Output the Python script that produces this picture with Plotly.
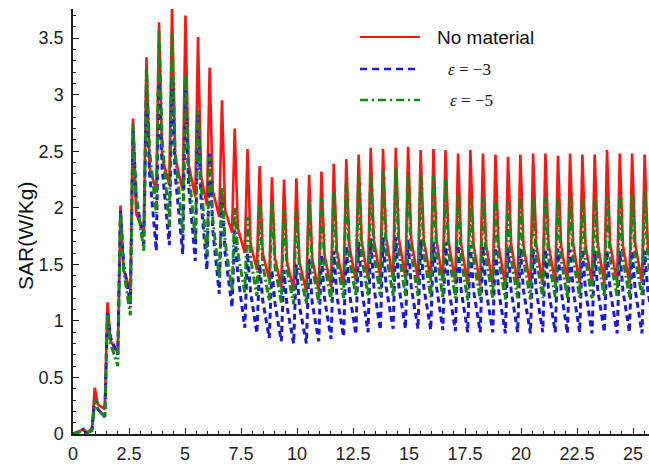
import plotly.graph_objects as go

# Peak positions (x)
peak_x = [0.97, 1.54, 2.12, 2.68, 3.28, 3.84, 4.42, 5.02, 5.58, 6.10, 6.65, 7.22, 7.79, 8.33,
          8.88, 9.42, 9.97, 10.54, 11.09, 11.64, 12.20, 12.75, 13.29, 13.84, 14.41, 14.96,
          15.52, 16.09, 16.63, 17.19, 17.74, 18.30, 18.86, 19.42, 19.97, 20.54, 21.09, 21.65,
          22.19, 22.74, 23.29, 23.84, 24.41, 24.96, 25.52]

# leading low part before the first peak
lead_x = [0.0, 0.25, 0.45, 0.62, 0.85]
red_lead = [0.0, 0.02, 0.045, 0.01, 0.05]
blue_lead = [0.0, 0.02, 0.04, 0.01, 0.04]
green_lead = [0.0, 0.015, 0.035, 0.01, 0.03]

# No material (red)
red_peak = [0.41, 1.165, 2.02, 2.79, 3.33, 3.64, 3.80, 3.70, 3.51, 3.24, 2.95, 2.70, 2.52, 2.37,
            2.27, 2.25, 2.26, 2.29, 2.32, 2.39, 2.43, 2.47, 2.53, 2.52, 2.53, 2.54, 2.51, 2.52,
            2.51, 2.48, 2.51, 2.48, 2.47, 2.45, 2.47, 2.48, 2.48, 2.46, 2.48, 2.47, 2.47, 2.51,
            2.48, 2.48, 2.47]
red_knee = [0.26, 0.82, 1.45, 1.95, 2.35, 2.45, 2.45, 2.38, 2.28, 2.15, 1.98, 1.82, 1.68, 1.60,
            1.55, 1.52, 1.52, 1.55, 1.58, 1.62, 1.66, 1.70, 1.72, 1.73, 1.73, 1.72, 1.72, 1.71,
            1.70, 1.68, 1.68, 1.68, 1.67, 1.68, 1.67, 1.68, 1.68, 1.67, 1.68, 1.67, 1.68, 1.68,
            1.67, 1.68, 1.67]
red_trough = [0.22, 0.72, 1.27, 1.78, 2.15, 2.20, 2.15, 2.10, 2.02, 1.92, 1.78, 1.60, 1.45, 1.36,
              1.30, 1.27, 1.26, 1.27, 1.30, 1.32, 1.35, 1.37, 1.38, 1.37, 1.38, 1.37, 1.36, 1.35,
              1.34, 1.32, 1.31, 1.32, 1.31, 1.32, 1.31, 1.32, 1.33, 1.34, 1.33, 1.34, 1.33, 1.34,
              1.33, 1.34, 1.34]

# epsilon = -3 (blue)
blue_peak = [0.30, 1.08, 1.98, 2.70, 3.05, 3.20, 3.15, 3.05, 2.83, 2.48, 2.12, 1.80, 1.60, 1.50,
             1.45, 1.45, 1.50, 1.55, 1.58, 1.62, 1.66, 1.70, 1.73, 1.74, 1.74, 1.72, 1.72, 1.70,
             1.70, 1.67, 1.67, 1.66, 1.65, 1.65, 1.64, 1.64, 1.63, 1.64, 1.63, 1.63, 1.62, 1.62,
             1.62, 1.62, 1.62]
blue_knee = [0.22, 0.85, 1.50, 2.10, 2.30, 2.35, 2.30, 2.20, 2.05, 1.80, 1.60, 1.40, 1.25, 1.18,
             1.15, 1.12, 1.13, 1.16, 1.20, 1.22, 1.25, 1.28, 1.30, 1.30, 1.30, 1.30, 1.30, 1.30,
             1.30, 1.27, 1.27, 1.27, 1.27, 1.27, 1.27, 1.27, 1.27, 1.27, 1.27, 1.27, 1.27, 1.27,
             1.27, 1.27, 1.27]
blue_trough = [0.15, 0.70, 1.15, 1.68, 1.62, 1.67, 1.59, 1.53, 1.45, 1.24, 1.12, 0.94, 0.89, 0.85,
               0.82, 0.80, 0.80, 0.82, 0.84, 0.86, 0.88, 0.90, 0.92, 0.93, 0.93, 0.93, 0.92, 0.92,
               0.91, 0.90, 0.90, 0.90, 0.89, 0.90, 0.89, 0.90, 0.90, 0.89, 0.90, 0.89, 0.90, 0.89,
               0.90, 0.89, 0.90]

# epsilon = -5 (green)
green_peak = [0.30, 1.06, 1.95, 2.74, 3.24, 3.57, 3.54, 3.17, 2.86, 2.45, 2.18, 2.00, 1.92, 2.03,
              2.05, 1.98, 1.98, 2.05, 2.09, 2.15, 2.24, 2.28, 2.30, 2.33, 2.35, 2.30, 2.30, 2.28,
              2.25, 2.12, 2.08, 2.10, 2.08, 2.06, 2.10, 2.08, 2.10, 2.09, 2.10, 2.09, 2.10, 2.10,
              2.10, 2.12, 2.15]
green_knee = [0.22, 0.80, 1.45, 2.10, 2.50, 2.60, 2.50, 2.35, 2.20, 1.90, 1.70, 1.60, 1.55, 1.50,
              1.48, 1.45, 1.45, 1.48, 1.50, 1.52, 1.55, 1.57, 1.60, 1.60, 1.60, 1.60, 1.60, 1.60,
              1.60, 1.55, 1.55, 1.55, 1.55, 1.55, 1.55, 1.55, 1.55, 1.55, 1.55, 1.55, 1.55, 1.55,
              1.55, 1.55, 1.55]
green_trough = [0.15, 0.60, 1.05, 1.62, 1.95, 1.84, 1.77, 1.72, 1.59, 1.38, 1.27, 1.25, 1.22, 1.18,
                1.16, 1.15, 1.15, 1.16, 1.18, 1.20, 1.22, 1.22, 1.22, 1.22, 1.22, 1.22, 1.21, 1.20,
                1.20, 1.18, 1.19, 1.20, 1.19, 1.20, 1.19, 1.20, 1.21, 1.20, 1.21, 1.20, 1.21, 1.22,
                1.21, 1.22, 1.22]

y_ticks = [0, 0.5, 1, 1.5, 2, 2.5, 3, 3.5]
x_ticks = [0, 2.5, 5, 7.5, 10, 12.5, 15, 17.5, 20, 22.5, 25]


def build(lead, peaks, knees, troughs):
    xs = list(lead_x)
    ys = list(lead)
    n = len(peak_x)
    for i in range(n):
        xp = peak_x[i]
        xn = peak_x[i + 1] if i + 1 < n else xp + 0.56
        xs += [xp, xp + 0.14, xn - 0.12]
        ys += [peaks[i], knees[i], troughs[i]]
    return xs, ys


fig = go.Figure()
rx, ry = build(red_lead, red_peak, red_knee, red_trough)
bx, by = build(blue_lead, blue_peak, blue_knee, blue_trough)
gx, gy = build(green_lead, green_peak, green_knee, green_trough)

fig.add_trace(go.Scatter(x=rx, y=ry, mode="lines", name="No material",
                         line=dict(color="#ff1414", width=2.6), showlegend=False))
fig.add_trace(go.Scatter(x=bx, y=by, mode="lines", name="ε = −3",
                         line=dict(color="#1a1ad6", width=3, dash="6px,4px"), showlegend=False))
fig.add_trace(go.Scatter(x=gx, y=gy, mode="lines", name="ε = −5",
                         line=dict(color="#1a861a", width=3, dash="8px,3px,2px,3px"), showlegend=False))

# manual legend (samples + labels)
W, H = 576, 425
def px(xp):
    return (xp - 73) / W
def py(yp):
    return (434 - yp) / H

legend_rows = [
    (37, "#ff1414", "solid", 2, "No material", "Arial", 19, 435),
    (69, "#1a1ad6", "7px,5px", 2.6, "<i>ε</i> = −3", "Times New Roman, Liberation Serif, serif", 17, 446),
    (100, "#1a861a", "8px,4px,2px,4px", 2.6, "<i>ε</i> = −5", "Times New Roman, Liberation Serif, serif", 17, 448),
]
for yy, col, dsh, wd, txt, fam, fs, tx in legend_rows:
    fig.add_shape(type="line", xref="paper", yref="paper",
                  x0=px(360), x1=px(420), y0=py(yy), y1=py(yy),
                  line=dict(color=col, width=wd, dash=dsh))
    fig.add_annotation(xref="paper", yref="paper", x=px(tx), y=py(yy), text=txt,
                       showarrow=False, xanchor="left", yanchor="middle",
                       font=dict(family=fam, size=fs, color="#111"))

fig.add_annotation(xref="paper", yref="paper", x=px(25), y=py(236), text="SAR(W/Kg)",
                   textangle=-90, showarrow=False, xanchor="center", yanchor="middle",
                   font=dict(family="Arial", size=21, color="#111"))

axis_common = dict(showline=True, linecolor="#222", linewidth=1.5, showgrid=False,
                   zeroline=False, ticks="inside", ticklen=6, tickwidth=1, tickcolor="#222",
                   tickfont=dict(family="Arial", size=18, color="#222"), mirror=False)

fig.update_xaxes(range=[0, 576 / 22.4], tickvals=x_ticks, ticktext=[str(v) for v in x_ticks],
                 minor=dict(ticks="inside", ticklen=3, dtick=0.5, tick0=0, tickcolor="#222"),
                 ticklabelstandoff=3, **axis_common)
fig.update_yaxes(range=[0, 425 / 113.1], tickvals=y_ticks, ticktext=[str(v) for v in y_ticks],
                 minor=dict(ticks="inside", ticklen=3, dtick=0.1, tick0=0, tickcolor="#222"),
                 ticklabelstandoff=4, **axis_common)

fig.update_layout(width=649, height=466, margin=dict(l=73, r=0, t=9, b=32),
                  plot_bgcolor="white", paper_bgcolor="white", showlegend=False)

fig.write_html("out.html")
